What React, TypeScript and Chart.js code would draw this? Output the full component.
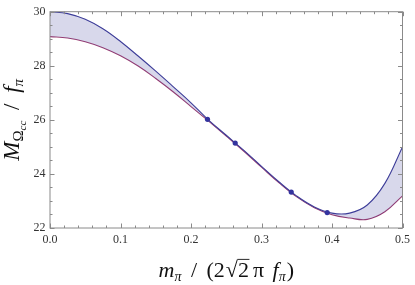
import React, { useEffect, useRef } from "react";
import { Chart, registerables } from "chart.js";

Chart.register(...registerables);

// Sample positions along the two bands
const curveX = [0, 0.025, 0.05, 0.075, 0.1, 0.125, 0.15, 0.175, 0.2, 0.225, 0.25, 0.275, 0.3, 0.325, 0.35, 0.375, 0.4, 0.425, 0.45, 0.475, 0.5];
const upperY = [30.0, 29.93, 29.72, 29.37, 28.9, 28.36, 27.8, 27.22, 26.63, 25.99, 25.43, 24.87, 24.28, 23.7, 23.18, 22.78, 22.55, 22.55, 22.85, 23.65, 25.0];
const lowerY = [29.08, 29.03, 28.89, 28.67, 28.37, 27.99, 27.53, 27.03, 26.49, 25.95, 25.4, 24.84, 24.25, 23.67, 23.15, 22.75, 22.49, 22.37, 22.32, 22.6, 23.19];

// Data points
const pointX = [0.2234, 0.2627, 0.3422, 0.3932];
const pointY = [26.02, 25.14, 23.33, 22.57];

// Axis ticks
const xTickLabels = ["0.0", "0.1", "0.2", "0.3", "0.4", "0.5"];
const yTickLabels = ["22", "24", "26", "28", "30"];

const BLUE = "#3D3D99";
const PURPLE = "#993D71";
const FRAME = "#8a8a8a";
const SERIF = "'Liberation Serif', 'DejaVu Serif', serif";

type Seg = { t: string; size: number; italic?: boolean; dy?: number; overline?: boolean; gap?: number };

function drawRich(ctx: CanvasRenderingContext2D, segs: Seg[], cx: number, by: number) {
  const font = (s: Seg) => `${s.italic ? "italic " : ""}${s.size}px ${SERIF}`;
  let total = 0;
  const widths = segs.map((s) => {
    ctx.font = font(s);
    const w = ctx.measureText(s.t).width + (s.gap || 0);
    total += w;
    return w;
  });
  let x = cx - total / 2;
  ctx.textBaseline = "alphabetic";
  ctx.textAlign = "left";
  segs.forEach((s, i) => {
    ctx.font = font(s);
    ctx.fillText(s.t, x, by + (s.dy || 0));
    if (s.overline) {
      ctx.beginPath();
      ctx.lineWidth = 0.9;
      ctx.moveTo(x - 0.5, by - s.size * 0.8);
      ctx.lineTo(x + widths[i] - (s.gap || 0) + 0.5, by - s.size * 0.8);
      ctx.stroke();
    }
    x += widths[i];
  });
}

const framePlugin = {
  id: "frameTicks",
  afterDraw(chart: any) {
    const { ctx, chartArea: a, scales } = chart;
    const xs = scales.x;
    const ys = scales.y;
    ctx.save();
    ctx.strokeStyle = FRAME;
    ctx.lineWidth = 1;
    ctx.strokeRect(a.left, a.top, a.right - a.left, a.bottom - a.top);
    ctx.beginPath();
    for (let i = 0; i <= 25; i++) {
      const v = i * 0.02;
      const px = Math.round(xs.getPixelForValue(v)) + 0.5;
      const len = i % 5 === 0 ? 4.5 : 2.5;
      ctx.moveTo(px, a.bottom);
      ctx.lineTo(px, a.bottom - len);
      ctx.moveTo(px, a.top);
      ctx.lineTo(px, a.top + len);
    }
    for (let i = 0; i <= 16; i++) {
      const v = 22 + i * 0.5;
      const py = Math.round(ys.getPixelForValue(v)) + 0.5;
      const len = i % 4 === 0 ? 4.5 : 2.5;
      ctx.moveTo(a.left, py);
      ctx.lineTo(a.left + len, py);
      ctx.moveTo(a.right, py);
      ctx.lineTo(a.right - len, py);
    }
    ctx.stroke();

    // axis titles
    ctx.fillStyle = "#111";
    ctx.strokeStyle = "#111";
    const cx = (a.left + a.right) / 2;
    drawRich(
      ctx,
      [
        { t: "m", size: 22, italic: true },
        { t: "π", size: 14, italic: true, dy: 4, gap: 4 },
        { t: " / ", size: 22, gap: 4 },
        { t: "(2", size: 22, gap: 1 },
        { t: "√", size: 22 },
        { t: "2", size: 22, overline: true, gap: 4 },
        { t: "π ", size: 22, gap: 3 },
        { t: "f", size: 22, italic: true },
        { t: "π", size: 14, italic: true, dy: 4, gap: 1 },
        { t: ")", size: 22 },
      ],
      cx,
      277
    );
    ctx.save();
    ctx.translate(19, (a.top + a.bottom) / 2);
    ctx.rotate(-Math.PI / 2);
    drawRich(
      ctx,
      [
        { t: "M", size: 23, italic: true },
        { t: "Ω", size: 15, dy: 4 },
        { t: "cc", size: 11, italic: true, dy: 7, gap: 5 },
        { t: " / ", size: 23, gap: 5 },
        { t: "f", size: 23, italic: true },
        { t: "π", size: 15, italic: true, dy: 4 },
      ],
      0,
      0
    );
    ctx.restore();
    ctx.restore();
  },
};

export default function App() {
  const ref = useRef<HTMLCanvasElement | null>(null);
  useEffect(() => {
    document.body.style.margin = "0";
    if (!ref.current) return;
    const upper = curveX.map((x, i) => ({ x, y: upperY[i] }));
    const lower = curveX.map((x, i) => ({ x, y: lowerY[i] }));
    const pts = pointX.map((x, i) => ({ x, y: pointY[i] }));
    const chart = new Chart(ref.current, {
      type: "line",
      data: {
        datasets: [
          {
            label: "points",
            data: pts,
            showLine: false,
            pointRadius: 2.6,
            pointBackgroundColor: "#34349f",
            pointBorderColor: "#34349f",
            pointBorderWidth: 0,
          },
          {
            label: "upper",
            data: upper,
            borderColor: BLUE,
            borderWidth: 1.1,
            pointRadius: 0,
            tension: 0.4,
            fill: "+1",
            backgroundColor: "rgba(61,61,153,0.2)",
          },
          {
            label: "lower",
            data: lower,
            borderColor: PURPLE,
            borderWidth: 1.1,
            pointRadius: 0,
            tension: 0.4,
            fill: false,
          },
        ],
      } as any,
      options: {
        animation: false,
        responsive: false,
        devicePixelRatio: 1,
        layout: { padding: { top: 6.5, right: 8.5, left: 0, bottom: 0 } },
        plugins: { legend: { display: false }, tooltip: { enabled: false } },
        scales: {
          x: {
            type: "linear",
            min: 0,
            max: 0.5,
            grid: { display: false, drawTicks: false },
            border: { display: false },
            ticks: {
              stepSize: 0.1,
              padding: 5,
              color: "#333",
              font: { family: SERIF, size: 12 },
              maxRotation: 0,
              callback: (v: any) => {
                const i = Math.round(Number(v) * 10);
                return xTickLabels[i] ?? "";
              },
            },
            afterFit: (s: any) => {
              s.height = 57;
            },
          },
          y: {
            type: "linear",
            min: 22,
            max: 30,
            grid: { display: false, drawTicks: false },
            border: { display: false },
            ticks: {
              stepSize: 2,
              padding: 4.5,
              color: "#333",
              font: { family: SERIF, size: 12 },
              callback: (v: any) => {
                const i = Math.round((Number(v) - 22) / 2);
                return yTickLabels[i] ?? "";
              },
            },
            afterFit: (s: any) => {
              s.width = 50;
            },
          },
        },
      } as any,
      plugins: [framePlugin],
    });
    return () => chart.destroy();
  }, []);
  return (
    <div style={{ width: 415, height: 285 }}>
      <canvas ref={ref} width={415} height={285} style={{ display: "block" }} />
    </div>
  );
}
